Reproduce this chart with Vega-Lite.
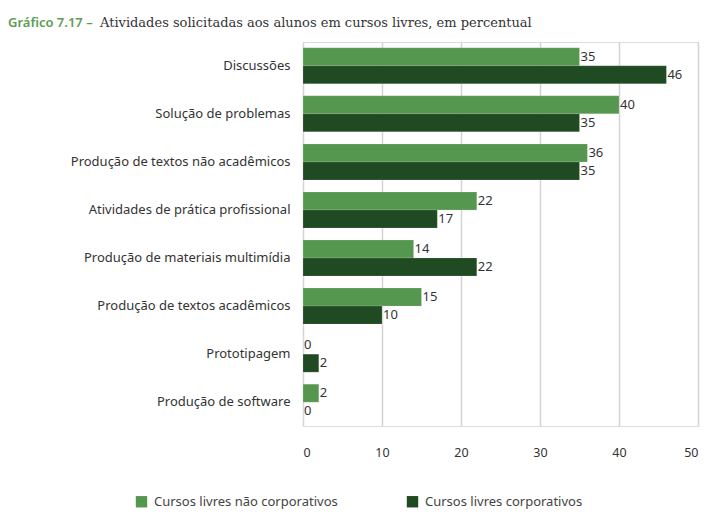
{
  "$schema": "https://vega.github.io/schema/vega-lite/v6.json",
  "width": 395,
  "height": 384,
  "autosize": {"type": "none"},
  "padding": {"left": 303, "top": 42, "right": 10, "bottom": 86},
  "background": "white",
  "title": {
    "text": "Gráfico 7.17 –",
    "subtitle": "Atividades solicitadas aos alunos em cursos livres, em percentual",
    "anchor": "start",
    "frame": "group",
    "dx": -203,
    "offset": 12,
    "font": "Noto Sans",
    "fontSize": 13,
    "fontWeight": 600,
    "color": "#5a9e50",
    "subtitleFont": "DejaVu Serif",
    "subtitleFontSize": 13,
    "subtitleColor": "#333333",
    "subtitlePadding": -13,
    "encoding": {"dx": {"value": -295}}
  },
  "data": {
    "values": [
      {"atividade": "Discussões", "tipo": "Cursos livres não corporativos", "valor": 35},
      {"atividade": "Discussões", "tipo": "Cursos livres corporativos", "valor": 46},
      {"atividade": "Solução de problemas ", "tipo": "Cursos livres não corporativos", "valor": 40},
      {"atividade": "Solução de problemas ", "tipo": "Cursos livres corporativos", "valor": 35},
      {"atividade": "Produção de textos não acadêmicos", "tipo": "Cursos livres não corporativos", "valor": 36},
      {"atividade": "Produção de textos não acadêmicos", "tipo": "Cursos livres corporativos", "valor": 35},
      {"atividade": "Atividades de prática profissional ", "tipo": "Cursos livres não corporativos", "valor": 22},
      {"atividade": "Atividades de prática profissional ", "tipo": "Cursos livres corporativos", "valor": 17},
      {"atividade": "Produção de materiais multimídia", "tipo": "Cursos livres não corporativos", "valor": 14},
      {"atividade": "Produção de materiais multimídia", "tipo": "Cursos livres corporativos", "valor": 22},
      {"atividade": "Produção de textos acadêmicos", "tipo": "Cursos livres não corporativos", "valor": 15},
      {"atividade": "Produção de textos acadêmicos", "tipo": "Cursos livres corporativos", "valor": 10},
      {"atividade": "Prototipagem", "tipo": "Cursos livres não corporativos", "valor": 0},
      {"atividade": "Prototipagem", "tipo": "Cursos livres corporativos", "valor": 2},
      {"atividade": "Produção de software", "tipo": "Cursos livres não corporativos", "valor": 2},
      {"atividade": "Produção de software", "tipo": "Cursos livres corporativos", "valor": 0}
    ]
  },
  "encoding": {
    "y": {
      "field": "atividade",
      "type": "nominal",
      "sort": null,
      "scale": {"paddingInner": 0.25, "paddingOuter": 0.12},
      "axis": {
        "title": null,
        "ticks": false,
        "domain": false,
        "labelPadding": 13,
        "labelFont": "Noto Sans",
        "labelFontSize": 13,
        "labelColor": "#333333",
        "labelLimit": 300
      }
    },
    "yOffset": {
      "field": "tipo",
      "type": "nominal",
      "sort": ["Cursos livres não corporativos", "Cursos livres corporativos"]
    },
    "x": {
      "field": "valor",
      "type": "quantitative",
      "scale": {"domain": [0, 50]},
      "axis": {
        "title": null,
        "values": [0, 10, 20, 30, 40, 50],
        "ticks": false,
        "domain": false,
        "labelPadding": 20,
        "labelFont": "Noto Sans",
        "labelFontSize": 12.5,
        "labelColor": "#333333",
        "gridColor": "#d4d4d4",
        "gridWidth": 1.5
      }
    }
  },
  "layer": [
    {
      "mark": {"type": "bar", "stroke": "#ffffff", "strokeOpacity": 0.3, "strokeWidth": 0.5},
      "encoding": {
        "color": {
          "field": "tipo",
          "type": "nominal",
          "sort": ["Cursos livres não corporativos", "Cursos livres corporativos"],
          "scale": {
            "domain": ["Cursos livres não corporativos", "Cursos livres corporativos"],
            "range": ["#56974f", "#1f4a22"]
          },
          "legend": {
            "title": null,
            "orient": "none",
            "direction": "horizontal",
            "legendX": -168,
            "legendY": 453,
            "symbolType": "square",
            "symbolSize": 130,
            "symbolStrokeWidth": 0,
            "labelFont": "Noto Sans",
            "labelFontSize": 13,
            "labelColor": "#444444",
            "labelLimit": 300,
            "columnPadding": 68,
            "labelOffset": 6
          }
        }
      }
    },
    {
      "mark": {"type": "text", "align": "left", "baseline": "middle", "dx": 1, "font": "Noto Sans", "fontSize": 13, "color": "#333333"},
      "encoding": {"text": {"field": "valor", "type": "quantitative"}}
    }
  ]
}
